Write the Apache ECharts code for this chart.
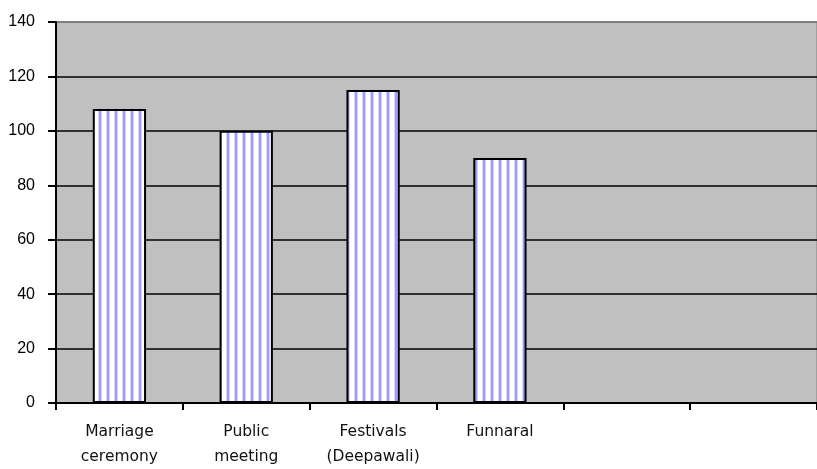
<!DOCTYPE html>
<html>
<head>
<meta charset="utf-8">
<script src="https://cdn.jsdelivr.net/npm/echarts@6/dist/echarts.min.js"></script>
<style>
  html, body { margin: 0; padding: 0; background: #fff; }
  #chart { width: 817px; height: 469px; }
</style>
</head>
<body>
<div id="chart"></div>
<script>
// chart data
var categories = ['Marriage\nceremony', 'Public\nmeeting', 'Festivals\n(Deepawali)', 'Funnaral', '', '']
var counts = [108, 100, 115, 90, '-', '-']
var yTicks = [0, 20, 40, 60, 80, 100, 120, 140]

// vertical blue stripes on white, like the old excel fill
function stripePattern() {
  var c = document.createElement('canvas')
  c.width = 8
  c.height = 8
  var ctx = c.getContext('2d')
  ctx.fillStyle = '#ffffff'
  ctx.fillRect(0, 0, 8, 8)
  ctx.fillStyle = '#d6d6ff'
  ctx.fillRect(2, 0, 1, 8)
  ctx.fillRect(5, 0, 1, 8)
  ctx.fillStyle = '#9d9dff'
  ctx.fillRect(3, 0, 2, 8)
  return c
}

var chart = echarts.init(document.getElementById('chart'))
chart.setOption({
  animation: false,
  grid: {
    left: 56,
    right: 0,
    top: 22,
    bottom: 66,
    show: true,
    backgroundColor: '#c0c0c0',
    borderColor: '#808080',
    borderWidth: 1
  },
  xAxis: {
    type: 'category',
    data: categories,
    axisLine: { lineStyle: { color: '#000', width: 2 } },
    axisTick: { show: true, length: 7, lineStyle: { color: '#000', width: 2 } },
    axisLabel: {
      color: '#111',
      fontFamily: 'DejaVu Sans',
      fontSize: 15.5,
      lineHeight: 25,
      margin: 16,
      interval: 0
    }
  },
  yAxis: {
    type: 'value',
    min: yTicks[0],
    max: yTicks[yTicks.length - 1],
    interval: 20,
    axisLine: { show: true, lineStyle: { color: '#000', width: 2 } },
    axisTick: { show: true, length: 8, lineStyle: { color: '#000', width: 2 } },
    axisLabel: {
      color: '#000',
      fontFamily: 'Liberation Sans',
      fontSize: 16,
      margin: 21
    },
    splitLine: {
      lineStyle: {
        color: ['#000', '#000', '#000', '#000', '#000', '#000', '#000', '#707070'],
        width: 1.5
      }
    }
  },
  series: [
    {
      type: 'bar',
      data: counts,
      barWidth: '42%',
      itemStyle: {
        color: { image: stripePattern(), repeat: 'repeat' },
        borderColor: '#000',
        borderWidth: 2
      }
    }
  ]
})
</script>
</body>
</html>
